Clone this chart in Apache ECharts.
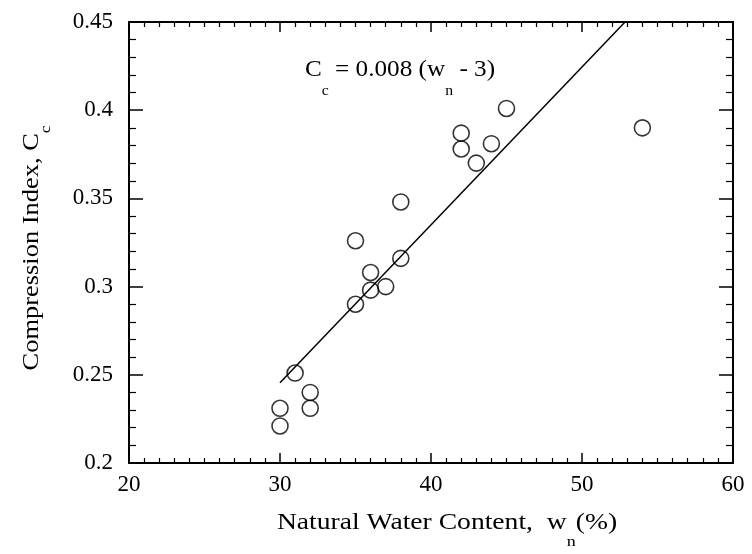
<!DOCTYPE html>
<html>
<head>
<meta charset="utf-8">
<script src="https://cdn.jsdelivr.net/npm/echarts@6/dist/echarts.min.js"></script>
<style>html,body{margin:0;padding:0;background:#fff}#c{width:752px;height:554px}</style>
</head>
<body>
<div id="c"></div>
<script>
// Data
const waterContent = [30, 30, 31, 32, 32, 35, 35, 36, 36, 37, 38, 38, 42, 42, 43, 44, 45, 54];
const compressionIndex = [0.221, 0.231, 0.251, 0.240, 0.231, 0.290, 0.326, 0.298, 0.308, 0.300, 0.316, 0.348, 0.387, 0.378, 0.370, 0.381, 0.401, 0.390];
const fitLineX = [30, 52.85];
const fitLineY = [0.2455, 0.45];
const xTicks = [20, 30, 40, 50, 60];
const yTicks = [0.2, 0.25, 0.3, 0.35, 0.4, 0.45];
const xTitle = ['Natural Water Content,  w', 'n', '(%)'];
const yTitle = ['Compression Index, C', 'c'];
const equation = ['C', 'c', ' = 0.008 (w', 'n', ' - 3)'];

const FONT = 'Liberation Serif';
const chart = echarts.init(document.getElementById('c'), null, {renderer: 'canvas'});
const scatterData = waterContent.map((x, i) => [x, compressionIndex[i]]);
const lineData = fitLineX.map((x, i) => [x, fitLineY[i]]);

const axisLine = {show: true, onZero: false, lineStyle: {color: '#000', width: 2}};
function xAx(pos, labels) {
  return {
    type: 'value', position: pos, min: xTicks[0], max: xTicks[xTicks.length - 1], interval: 10,
    axisLine: axisLine,
    axisTick: {show: true, inside: true, length: 10, lineStyle: {color: '#000', width: 1.5}},
    minorTick: {show: true, splitNumber: 10, length: 5, lineStyle: {color: '#000', width: 1.2}},
    splitLine: {show: false},
    axisLabel: {show: labels, color: '#000', fontFamily: FONT, fontSize: 23, margin: 10}
  };
}
function yAx(pos, labels) {
  return {
    type: 'value', position: pos, min: yTicks[0], max: yTicks[yTicks.length - 1], interval: 0.05,
    axisLine: axisLine,
    axisTick: {show: true, inside: true, length: 14, lineStyle: {color: '#000', width: 1.5}},
    minorTick: {show: true, splitNumber: 5, length: 7, lineStyle: {color: '#000', width: 1.2}},
    splitLine: {show: false},
    axisLabel: {show: labels, color: '#000', fontFamily: FONT, fontSize: 23, margin: 16}
  };
}
function richStyle(size, subSize, drop) {
  return {
    a: {fontFamily: FONT, fontSize: size, fill: '#000'},
    s: {fontFamily: FONT, fontSize: subSize, fill: '#000', padding: [drop * 2, 0, 0, 0]}
  };
}

chart.setOption({
  animation: false,
  backgroundColor: '#fff',
  grid: {left: 129, right: 19, top: 22, bottom: 91},
  xAxis: [xAx('bottom', true), xAx('top', false)],
  yAxis: [yAx('left', true), yAx('right', false)],
  graphic: [
    {
      type: 'text', x: 305, y: 70, scaleX: 1.05,
      style: {
        text: '{a|' + equation[0] + '}{s|' + equation[1] + '}{a|' + equation[2] + '}{s|' + equation[3] + '}{a|' + equation[4] + '}',
        textAlign: 'left', textVerticalAlign: 'middle',
        rich: richStyle(24, 15, 21)
      }
    },
    {
      type: 'text', x: 447, y: 523, scaleX: 1.2,
      style: {
        text: '{a|' + xTitle[0] + '}{s|' + xTitle[1] + '}{a|' + xTitle[2] + '}',
        textAlign: 'center', textVerticalAlign: 'middle',
        rich: richStyle(23, 15, 19)
      }
    },
    {
      type: 'text', x: 32, y: 248, scaleX: 1.15, rotation: Math.PI / 2,
      style: {
        text: '{a|' + yTitle[0] + '}{s|' + yTitle[1] + '}',
        textAlign: 'center', textVerticalAlign: 'middle',
        rich: richStyle(23, 15, 14)
      }
    }
  ],
  series: [
    {type: 'line', data: lineData, showSymbol: false, symbol: 'none',
     lineStyle: {color: '#000', width: 1.5}, xAxisIndex: 0, yAxisIndex: 0, z: 2},
    {type: 'scatter', data: scatterData, symbol: 'circle', symbolSize: 16,
     itemStyle: {color: 'rgba(0,0,0,0)', borderColor: '#000', borderWidth: 1.6},
     xAxisIndex: 0, yAxisIndex: 0, z: 3}
  ]
});
</script>
</body>
</html>
